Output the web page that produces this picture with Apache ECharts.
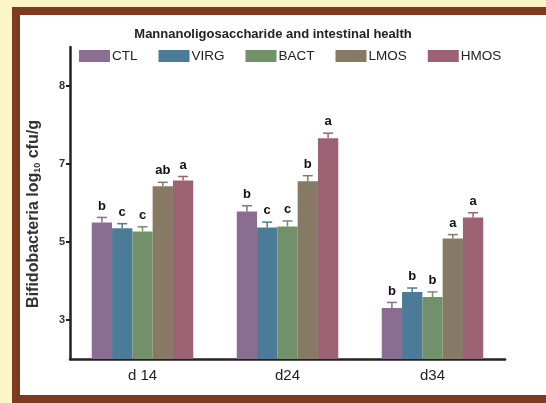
<!DOCTYPE html>
<html>
<head>
<meta charset="utf-8">
<script src="https://cdn.jsdelivr.net/npm/echarts@6/dist/echarts.min.js"></script>
<style>
  html, body { margin: 0; padding: 0; background: #fcf5c6; }
  #main { width: 546px; height: 403px; }
</style>
</head>
<body>
<div id="main"></div>
<script>
// categories and groups
const days = ['d 14', 'd24', 'd34'];
const groups = ['CTL', 'VIRG', 'BACT', 'LMOS', 'HMOS'];
const colors = ['#8b6d92', '#4b7b97', '#72906a', '#867a65', '#9c6273'];

// bacteria counts per group, one value per day
const ctl  = [5.50, 5.78, 3.31];
const virg = [5.35, 5.37, 3.72];
const bact = [5.27, 5.40, 3.59];
const lmos = [6.43, 6.56, 5.09];
const hmos = [6.58, 7.66, 5.63];
const values = [ctl, virg, bact, lmos, hmos];

// SEM
const ctlErr  = [0.13, 0.15, 0.14];
const virgErr = [0.12, 0.14, 0.10];
const bactErr = [0.12, 0.14, 0.13];
const lmosErr = [0.10, 0.14, 0.10];
const hmosErr = [0.10, 0.13, 0.12];
const errors = [ctlErr, virgErr, bactErr, lmosErr, hmosErr];

// significance letters
const ctlSig  = ['b', 'b', 'b'];
const virgSig = ['c', 'c', 'b'];
const bactSig = ['c', 'c', 'b'];
const lmosSig = ['ab', 'b', 'a'];
const hmosSig = ['a', 'a', 'a'];
const letters = [ctlSig, virgSig, bactSig, lmosSig, hmosSig];

// y ticks (labels as printed in the figure)
const yTickValues = [3, 5, 7, 9];
const yTickLabels = ['3', '5', '7', '8'];

const catGap = 0.30;

const myChart = echarts.init(document.getElementById('main'));

const series = [];
groups.forEach((g, i) => {
  series.push({
    name: g,
    type: 'bar',
    barGap: '0%',
    barCategoryGap: (catGap * 100) + '%',
    itemStyle: { color: colors[i] },
    data: values[i]
  });
});
groups.forEach((g, i) => {
  series.push({
    type: 'custom',
    silent: true,
    z: 5,
    data: values[i].map((v, k) => [k, v, errors[i][k]]),
    renderItem: function (params, api) {
      const k = api.value(0);
      const v = api.value(1);
      const e = api.value(2);
      const catW = api.size([1, 0])[0];
      const bw = catW * (1 - catGap) / groups.length;
      const center = api.coord([k, v]);
      const x = center[0] + (i - (groups.length - 1) / 2) * bw;
      const top = api.coord([k, v + e])[1];
      const yv = center[1];
      return {
        type: 'group',
        children: [
          { type: 'line', shape: { x1: x, y1: yv, x2: x, y2: top }, style: { stroke: colors[i], lineWidth: 1.5 } },
          { type: 'line', shape: { x1: x - 5, y1: top, x2: x + 5, y2: top }, style: { stroke: colors[i], lineWidth: 1.5 } },
          { type: 'text', x: x, y: top - 5, style: { text: letters[i][k], fill: '#111', font: 'bold 13px "Liberation Sans", Arial', align: 'center', verticalAlign: 'bottom' } }
        ]
      };
    }
  });
});

const option = {
  animation: false,
  backgroundColor: '#fcf5c6',
  graphic: [
    { type: 'rect', z: -10, shape: { x: 16, y: 11, width: 560, height: 388 },
      style: { fill: '#ffffff', stroke: '#7e3a1d', lineWidth: 8 } }
  ],
  title: {
    text: 'Mannanoligosaccharide and intestinal health',
    left: 'center',
    top: 23,
    textStyle: { fontSize: 13, fontWeight: 'bold', color: '#222', fontFamily: 'Liberation Sans' }
  },
  legend: {
    data: groups,
    top: 49,
    left: 79,
    padding: 0,
    itemWidth: 31,
    itemHeight: 12,
    itemGap: 21,
    icon: 'rect',
    textStyle: { fontSize: 13.5, color: '#222', fontFamily: 'Liberation Sans', padding: [0, 0, 0, -3] }
  },
  grid: { left: 70, right: 41, top: 47, bottom: 44 },
  xAxis: {
    type: 'category',
    data: days,
    axisLine: { lineStyle: { color: '#222', width: 2.5 } },
    axisTick: { show: false },
    axisLabel: { fontSize: 15, color: '#222', fontFamily: 'Liberation Sans', margin: 9 }
  },
  yAxis: {
    type: 'value',
    min: 2,
    max: 10,
    name: 'Bifidobacteria log{s|10} cfu/g',
    nameLocation: 'middle',
    nameGap: 28,
    nameTextStyle: {
      fontSize: 16, fontWeight: 'bold', color: '#333', fontFamily: 'Liberation Sans',
      padding: [0, 22, 0, 0],
      rich: { s: { fontSize: 9, fontWeight: 'bold', color: '#333', verticalAlign: 'bottom', padding: [8, 0, 0, 0] } }
    },
    axisLine: { show: true, lineStyle: { color: '#222', width: 2.5 } },
    axisTick: { show: true, length: 4, customValues: yTickValues, lineStyle: { color: '#222', width: 2 } },
    axisLabel: {
      customValues: yTickValues,
      fontSize: 11, fontWeight: 'bold', color: '#333', margin: 5,
      formatter: function (v) { return yTickLabels[yTickValues.indexOf(v)]; }
    },
    splitLine: { show: false }
  },
  series: series
};

myChart.setOption(option);
</script>
</body>
</html>
